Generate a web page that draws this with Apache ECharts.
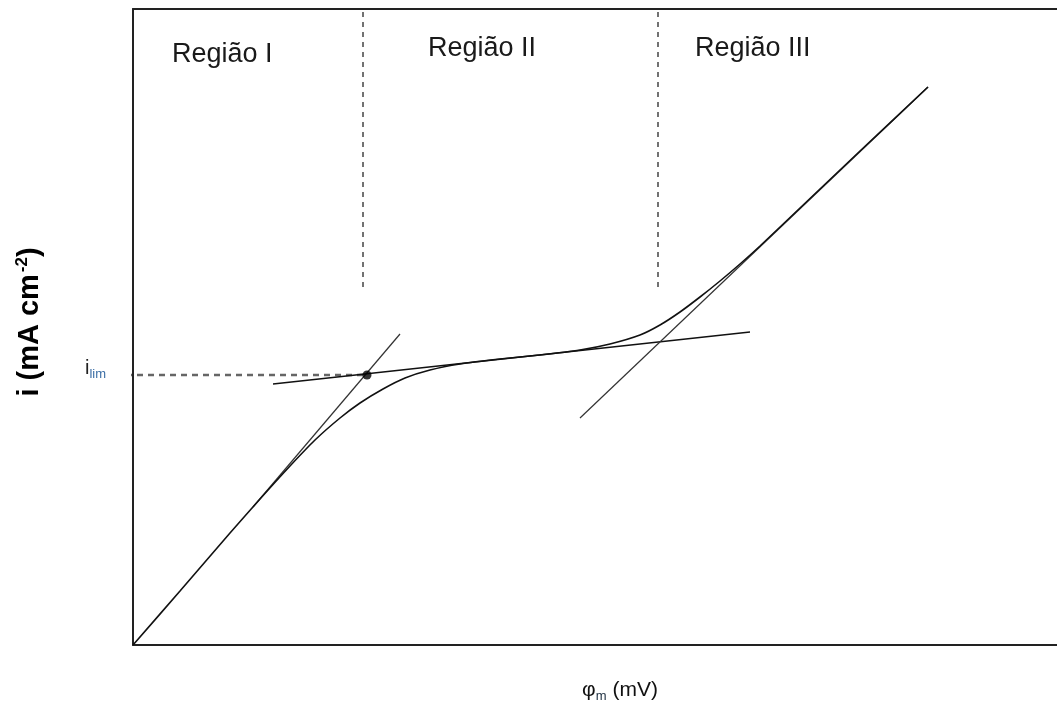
<!DOCTYPE html>
<html>
<head>
<meta charset="utf-8">
<script src="https://cdn.jsdelivr.net/npm/echarts@6/dist/echarts.min.js"></script>
<style>
html,body{margin:0;padding:0;background:#fff;}
#c{width:1057px;height:706px;}
</style>
</head>
<body>
<div id="c"></div>
<script>
// Values (x: potential units, y: current units, origin at axes corner)
const mainCurve = [
  [0,0],[47,54],[97,112],[127,146],[157,179],[182,205],[207,227],[227,242],[250,256],
  [272,267],[297,275],[327,281],[367,286],[407,290],[447,295],[477,301],[507,310],
  [527,320],[547,333],[567,348],[587,364],[607,381],[627,399],[667,437],[727,494],[795,558]
];
const tangentOhmic = [[120,138],[267,311]];
const tangentPlateau = [[140,261],[617,313]];
const tangentUpper = [[447,227],[795,558]];
const regionBoundary1 = [[230,633],[230,355]];
const regionBoundary2 = [[525,633],[525,353]];
const iLimGuide = [[-18,270],[234,270]];
const iLimPoint = [[234,270]];
const regionLabels = ['Região I', 'Região II', 'Região III'];

const FONT = "'Liberation Sans', Arial, sans-serif";
const chart = echarts.init(document.getElementById('c'));

function seg(data, color, width, type) {
  return {
    type: 'line', data: data, symbol: 'none', clip: false, silent: true,
    lineStyle: {color: color, width: width, type: type || 'solid'}, z: 3
  };
}

chart.setOption({
  animation: false,
  backgroundColor: '#fff',
  grid: {left: 133, right: 0, top: 9, bottom: 61},
  xAxis: [
    {type: 'value', min: 0, max: 924, position: 'bottom',
     axisLine: {show: true, lineStyle: {color: '#222', width: 2}},
     axisTick: {show: false}, axisLabel: {show: false}, splitLine: {show: false}},
    {type: 'value', min: 0, max: 924, position: 'top',
     axisLine: {show: true, lineStyle: {color: '#222', width: 2}},
     axisTick: {show: false}, axisLabel: {show: false}, splitLine: {show: false}}
  ],
  yAxis: {type: 'value', min: 0, max: 636,
    axisLine: {show: true, lineStyle: {color: '#222', width: 2}},
    axisTick: {show: false}, axisLabel: {show: false}, splitLine: {show: false}},
  series: [
    seg(regionBoundary1, '#444', 1.5, [5, 5]),
    seg(regionBoundary2, '#444', 1.5, [5, 5]),
    seg(iLimGuide, '#666', 2.5, [6, 5]),
    seg(tangentOhmic, '#333', 1.2),
    seg(tangentPlateau, '#111', 1.6),
    seg(tangentUpper, '#333', 1.2),
    Object.assign(seg(mainCurve, '#111', 1.6), {smooth: 0.25}),
    {type: 'scatter', data: iLimPoint, symbolSize: 9, itemStyle: {color: '#000'}, z: 5, silent: true}
  ],
  graphic: [
    {type: 'text', left: 172, top: 41, style: {text: regionLabels[0], font: '27px ' + FONT, fill: '#1a1a1a'}},
    {type: 'text', left: 428, top: 35, style: {text: regionLabels[1], font: '27px ' + FONT, fill: '#1a1a1a'}},
    {type: 'text', left: 695, top: 35, style: {text: regionLabels[2], font: '27px ' + FONT, fill: '#1a1a1a'}},
    {type: 'text', x: 30, y: 322, rotation: Math.PI / 2,
     style: {text: '{a|i (mA cm}{s|-2}{a|)}', align: 'center', verticalAlign: 'middle',
       rich: {a: {font: 'bold 29px ' + FONT, fill: '#000'}, s: {font: 'bold 17px ' + FONT, fill: '#000', padding: [0, 0, 16, 2]}}}},
    {type: 'text', x: 620, y: 690,
     style: {text: '{a|φ}{s|m}{a| (mV)}', align: 'center', verticalAlign: 'middle',
       rich: {a: {font: '21px ' + FONT, fill: '#111'}, s: {font: '13px ' + FONT, fill: '#234', padding: [12, 0, 0, 0]}}}},
    {type: 'text', x: 106, y: 368,
     style: {text: '{a|i}{s|lim}', align: 'right', verticalAlign: 'middle',
       rich: {a: {font: '20px ' + FONT, fill: '#222'}, s: {font: '13px ' + FONT, fill: '#3b6ea5', padding: [12, 0, 0, 0]}}}}
  ]
});
</script>
</body>
</html>
